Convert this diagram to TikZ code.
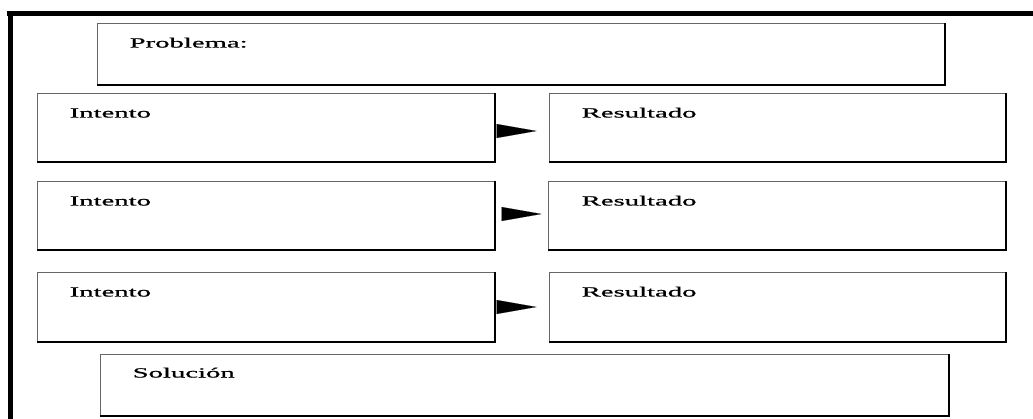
\documentclass[tikz,border=0pt]{standalone}
\usepackage{graphicx}
\usepackage{fontspec}
\setmainfont{Liberation Serif}
\newfontfamily\lblfont[FakeBold=0.6]{Liberation Serif}
\usetikzlibrary{arrows.meta,calc}
\newcommand\wtxt[1]{\scalebox{2.05}[1]{\fontsize{14}{15}\lblfont #1}}
\begin{document}
\begin{tikzpicture}[x=1pt,y=-1pt,
  card/.style={draw=black!60, line width=1pt, rectangle, inner sep=0pt, minimum width=#1},
  card/.default=457pt,
  shade edge/.style={draw=black, line width=2pt},
  lbl/.style={anchor=base west, inner sep=0pt},
  tri/.style={-{Triangle[length=40pt,width=14pt]}, line width=0.1pt}
]
\useasboundingbox (0,0) rectangle (1033,419);
% frame
\draw[line width=5pt] (7,13.5) coordinate (ftl) -- (1033,13.5) coordinate (ftr);
\draw[line width=5pt] (10,11) coordinate (flt) -- (10,419) coordinate (flb);
% boxes
\node[card=847pt, minimum height=61pt] (prob) at (520.5,54.5) {};
\node[card=457pt, minimum height=68pt] (i1) at (265.5,128) {};
\node[card=456pt, minimum height=68pt] (r1) at (777,128) {};
\node[card=457pt, minimum height=68pt] (i2) at (265.5,216) {};
\node[card=457pt, minimum height=68pt] (r2) at (776.5,216) {};
\node[card=457pt, minimum height=69pt] (i3) at (265.5,307.5) {};
\node[card=456pt, minimum height=69pt] (r3) at (777,307.5) {};
\node[card=848pt, minimum height=60pt] (sol) at (524,385) {};
\foreach \n in {prob,i1,r1,i2,r2,i3,r3,sol}{
  \draw[shade edge] (\n.north east) -- (\n.south east) -- (\n.south west);
}
% labels
\node[lbl] (tprob) at ($(prob.north west)+(33,24)$) {\wtxt{Problema:}};
\node[lbl] (ti1) at ($(i1.north west)+(33,24)$) {\wtxt{Intento}};
\node[lbl] (tr1) at ($(r1.north west)+(33,24)$) {\wtxt{Resultado}};
\node[lbl] (ti2) at ($(i2.north west)+(33,24)$) {\wtxt{Intento}};
\node[lbl] (tr2) at ($(r2.north west)+(34,24)$) {\wtxt{Resultado}};
\node[lbl] (ti3) at ($(i3.north west)+(33,24)$) {\wtxt{Intento}};
\node[lbl] (tr3) at ($(r3.north west)+(33,24)$) {\wtxt{Resultado}};
\node[lbl] (tsol) at ($(sol.north west)+(33,23)$) {\wtxt{Solución}};
% arrows
\draw[tri] ($(i1.east)+(3,3)$) -- ($(r1.west)+(-12,3)$);
\draw[tri] ($(i2.east)+(8,-2)$) -- ($(r2.west)+(-6,-2)$);
\draw[tri] ($(i3.east)+(4,-0.5)$) -- ($(r3.west)+(-12,-0.5)$);
\end{tikzpicture}
\end{document}
